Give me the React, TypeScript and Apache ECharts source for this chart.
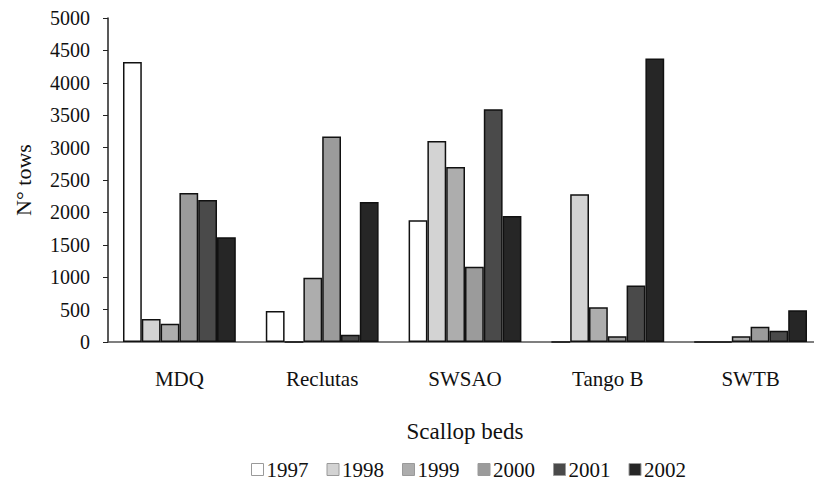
import React, { useEffect, useRef } from "react";
import * as echarts from "echarts";

const categories = ["MDQ", "Reclutas", "SWSAO", "Tango B", "SWTB"];
const years = ["1997", "1998", "1999", "2000", "2001", "2002"];
const v1997 = [4320, 480, 1880, 0, 0];
const v1998 = [355, 0, 3100, 2280, 0];
const v1999 = [280, 990, 2700, 535, 90];
const v2000 = [2300, 3170, 1160, 90, 236];
const v2001 = [2190, 110, 3590, 870, 175];
const v2002 = [1615, 2160, 1945, 4375, 490];
const yTicks = [0, 500, 1000, 1500, 2000, 2500, 3000, 3500, 4000, 4500, 5000];

const values = [v1997, v1998, v1999, v2000, v2001, v2002];
const colors = ["#ffffff", "#d3d3d3", "#adadad", "#9b9b9b", "#4a4a4a", "#262626"];
const FONT = "Liberation Serif";

export default function App() {
  const ref = useRef<HTMLDivElement>(null);
  useEffect(() => {
    const chart = echarts.init(ref.current!, null, { renderer: "svg" });
    chart.setOption({
      animation: false,
      backgroundColor: "#ffffff",
      textStyle: { fontFamily: FONT, color: "#111" },
      grid: { left: 108, right: -10, top: 18, bottom: 143, containLabel: false },
      legend: {
        bottom: 0,
        left: 246,
        itemWidth: 12,
        itemHeight: 12,
        itemGap: 18,
        icon: "rect",
        textStyle: { fontFamily: FONT, fontSize: 21, color: "#111", padding: [0, 0, 0, -2] },
        itemStyle: { borderColor: "#9a9a9a", borderWidth: 1 },
        data: years,
      },
      xAxis: {
        type: "category",
        data: categories,
        name: "Scallop beds",
        nameLocation: "middle",
        nameGap: 78,
        nameTextStyle: { fontFamily: FONT, fontSize: 23, color: "#111" },
        axisLine: { lineStyle: { color: "#555", width: 1.5 } },
        axisTick: { length: 5, lineStyle: { color: "#333" } },
        axisLabel: { fontFamily: FONT, fontSize: 21, color: "#111", margin: 26 },
      },
      yAxis: {
        type: "value",
        min: yTicks[0],
        max: yTicks[yTicks.length - 1],
        interval: 500,
        name: "N° tows",
        nameLocation: "middle",
        nameGap: 74,
        nameTextStyle: { fontFamily: FONT, fontSize: 22, color: "#111" },
        splitLine: { show: false },
        axisLine: { show: true, lineStyle: { color: "#222", width: 1.5 } },
        axisTick: { show: true, length: 5, lineStyle: { color: "#222" } },
        axisLabel: {
          fontFamily: FONT,
          fontSize: 20,
          color: "#111",
          margin: 18,
          formatter: (v: number) => String(v),
        },
      },
      series: years.map((y, i) => ({
        name: y,
        type: "bar",
        data: values[i],
        barGap: "0%",
        barCategoryGap: "21%",
        itemStyle: { color: colors[i], borderColor: "#111", borderWidth: 1.5 },
      })),
    });
    return () => chart.dispose();
  }, []);
  return <div ref={ref} style={{ width: 822, height: 485, margin: -8 }} />;
}
